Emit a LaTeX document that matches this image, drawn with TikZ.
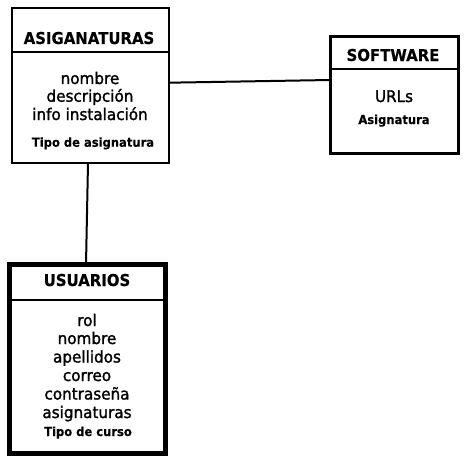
\documentclass[tikz,border=0pt]{standalone}
\usepackage{fontspec}
\setmainfont{DejaVu Sans}
\newfontfamily\bodyfont{DejaVu Sans}[FakeBold=1.5, FakeStretch=0.95]
\newfontfamily\boldfont{DejaVu Sans Bold}[FakeBold=0.3, FakeStretch=0.91]
\newfontfamily\smallfont{DejaVu Sans Bold}[FakeBold=0.3, FakeStretch=0.93]
\begin{document}
\begin{tikzpicture}[x=1pt,y=-1pt,
  entity/.style={draw, rectangle, inner sep=0pt, outer sep=0pt},
  ttl/.style={anchor=base, inner sep=0pt, font=\boldfont\fontsize{16.4}{18}\selectfont},
  attr/.style={anchor=base, inner sep=0pt, font=\bodyfont\fontsize{16}{18}\selectfont},
  small/.style={anchor=base, inner sep=0pt, font=\smallfont\fontsize{12.4}{14}\selectfont},
  link/.style={line width=2pt}]
\useasboundingbox (0,0) rectangle (467,463);
% boxes
\node[entity, line width=2pt, minimum width=157pt, minimum height=155pt] (asig) at (90.5,85.5) {};
\node[entity, line width=3pt, minimum width=128pt, minimum height=117pt] (soft) at (394,94.5) {};
\node[entity, line width=5pt, minimum width=155.5pt, minimum height=189pt] (usu) at (87.25,359) {};
% dividers
\draw[line width=2pt] (asig.west |- 0,52) coordinate (a1) -- (asig.east |- 0,52) coordinate (a2);
\draw[line width=2pt] (soft.west |- 0,69) coordinate (s1) -- (soft.east |- 0,69) coordinate (s2);
\draw[line width=2pt] (usu.west |- 0,300) coordinate (u1) -- (usu.east |- 0,300) coordinate (u2);
% connectors
\draw[link] ([yshift=2.8pt]asig.east) -- ([yshift=14.5pt]soft.west);
\draw[link] ([xshift=-2.5pt]asig.south) -- ([xshift=-1.25pt]usu.north);
% ASIGANATURAS texts
\node[ttl] (t1) at (89,44) {ASIGANATURAS};
\node[attr] (a_nombre) at (90,84) {nombre};
\node[attr] (a_desc) at (90,101.7) {descripción};
\node[attr] (a_info) at (90,120) {info instalación};
\node[small] (a_tipo) at (93,146.7) {Tipo de asignatura};
% SOFTWARE texts
\node[ttl] (t2) at (393,61) {SOFTWARE};
\node[attr] (s_urls) at (394,102) {URLs};
\node[small] (s_asig) at (394,124) {Asignatura};
% USUARIOS texts
\node[ttl] (t3) at (87,286) {USUARIOS};
\node[attr] (u_rol) at (87,326) {rol};
\node[attr] (u_nombre) at (87,344) {nombre};
\node[attr] (u_apell) at (87,362.5) {apellidos};
\node[attr] (u_correo) at (87,381) {correo};
\node[attr] (u_contra) at (87,399.5) {contraseña};
\node[attr] (u_asig) at (87,418) {asignaturas};
\node[small] (u_tipo) at (88,436) {Tipo de curso};
\end{tikzpicture}
\end{document}
